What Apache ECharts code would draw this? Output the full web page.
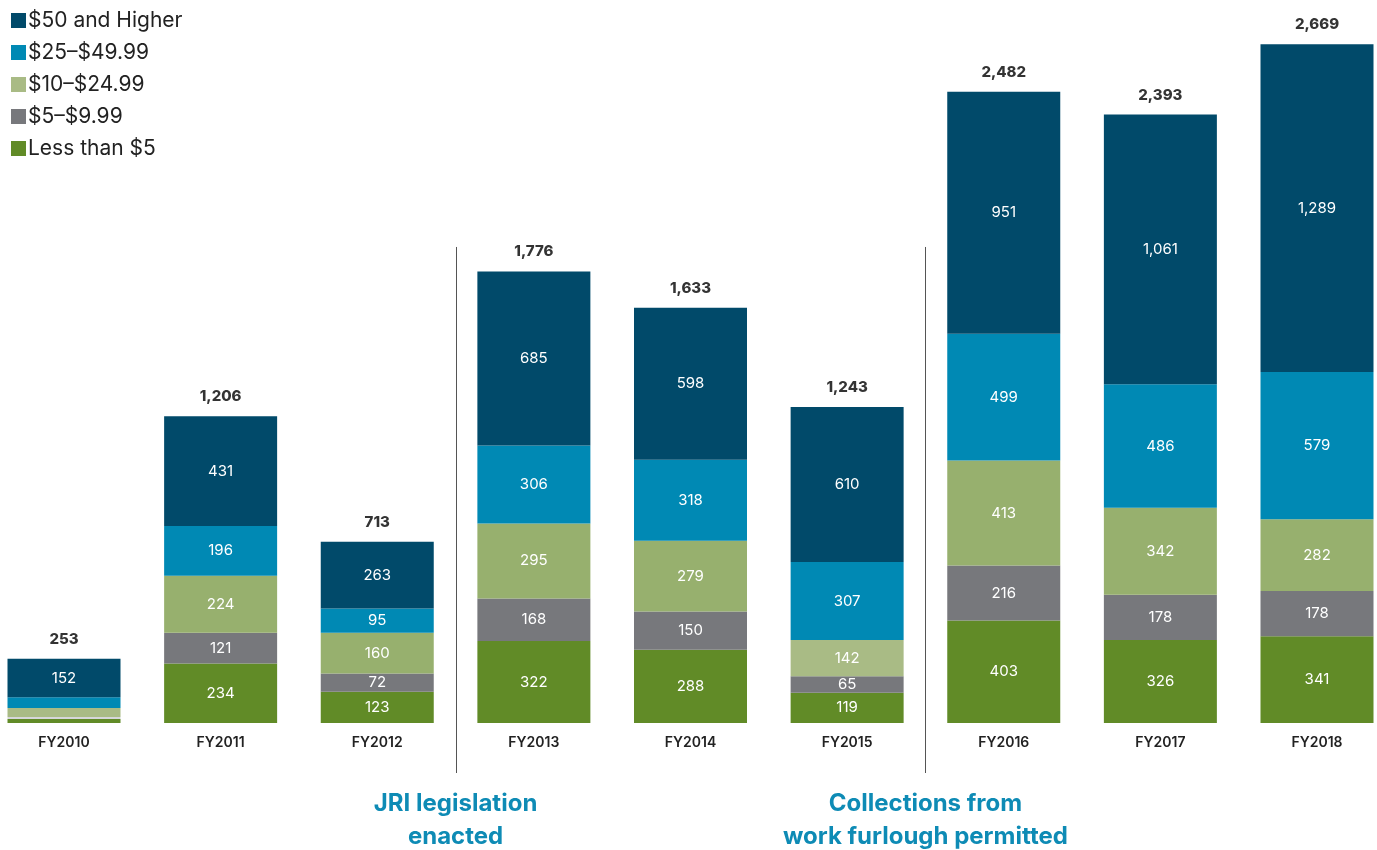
<!DOCTYPE html>
<html><head><meta charset="utf-8">
<script src="https://cdn.jsdelivr.net/npm/echarts@6/dist/echarts.min.js"></script>
<style>html,body{margin:0;padding:0;background:#fff}#c{width:1377px;height:850px}</style>
</head><body><div id="c"></div>
<script>
const categories = ['FY2010','FY2011','FY2012','FY2013','FY2014','FY2015','FY2016','FY2017','FY2018'];
const lessThan5 = [16, 234, 123, 322, 288, 119, 403, 326, 341];
const from5to9 = [8, 121, 72, 168, 150, 65, 216, 178, 178];
const from10to24 = [35, 224, 160, 295, 279, 142, 413, 342, 282];
const from25to49 = [42, 196, 95, 306, 318, 307, 499, 486, 579];
const from50up = [152, 431, 263, 685, 598, 610, 951, 1061, 1289];
const totals = [253, 1206, 713, 1776, 1633, 1243, 2482, 2393, 2669];
const seriesNames = ['Less than $5', '$5–$9.99', '$10–$24.99', '$25–$49.99', '$50 and Higher'];
const annotations = [
  {after: 'FY2012', before: 'FY2013', text: 'JRI legislation\nenacted'},
  {after: 'FY2015', before: 'FY2016', text: 'Collections from\nwork furlough permitted'}
];

const colors = ['#618b27', '#77787c', '#97b06e', '#0089b4', '#014a6a'];
const lightGreen = '#a9bb85';
const FONT = 'Inter, "Noto Sans", sans-serif';
const fmt = v => Number(v).toLocaleString('en-US');

const chart = echarts.init(document.getElementById('c'));
const dataSets = [lessThan5, from5to9, from10to24, from25to49, from50up];

const series = dataSets.map((arr, i) => ({
  name: seriesNames[i],
  type: 'bar',
  stack: 'total',
  barWidth: 113,
  itemStyle: {color: colors[i]},
  data: arr.map((v, j) => {
    const d = {value: v};
    if (i === 2 && (j === 0 || j === 5)) d.itemStyle = {color: lightGreen};
    if (i === 1 && j === 0) d.itemStyle = {color: '#d6d7d9'};
    if (j === 0 && i !== 4) d.label = {show: false};
    return d;
  }),
  label: {
    show: true, position: 'inside', color: '#fff',
    fontFamily: FONT, fontSize: 15, formatter: p => fmt(p.value)
  },
  emphasis: {disabled: true}
}));
series.push({
  name: 'total', type: 'scatter', data: totals, symbolSize: 0, silent: true,
  label: {show: true, position: 'top', distance: 12, color: '#000',
    fontFamily: FONT, fontWeight: 800, fontSize: 15, formatter: p => fmt(p.value)}
});

chart.setOption({
  animation: false,
  color: colors,
  grid: {left: 64, right: 60, top: 11, bottom: 127},
  legend: {
    data: seriesNames.slice().reverse().map((n, i) => ({name: n, itemStyle: {color: i === 2 ? lightGreen : colors[4 - i]}})),
    orient: 'vertical', left: 6, top: 5, itemWidth: 15, itemHeight: 15, itemGap: 11,
    icon: 'rect', selectedMode: false,
    textStyle: {fontFamily: FONT, fontSize: 21, color: '#222', padding: [0, 0, 0, -3]}
  },
  xAxis: {
    type: 'category', data: categories, boundaryGap: false,
    axisLine: {show: false}, axisTick: {show: false},
    axisLabel: {color: '#222', fontFamily: FONT, fontWeight: 600, fontSize: 14, margin: 13}
  },
  yAxis: {type: 'value', min: 0, max: 2800, show: false, splitLine: {show: false}},
  series: series
});

function drawAnnotations() {
  const base = chart.convertToPixel({yAxisIndex: 0}, 0);
  const top = chart.convertToPixel({yAxisIndex: 0}, 1872);
  const els = [];
  annotations.forEach(a => {
    const x = (chart.convertToPixel({xAxisIndex: 0}, a.after) + chart.convertToPixel({xAxisIndex: 0}, a.before)) / 2;
    const xr = Math.round(x) + 0.5;
    els.push({type: 'line', shape: {x1: xr, y1: top, x2: xr, y2: base + 50}, style: {stroke: '#555', lineWidth: 1}, silent: true});
    els.push({type: 'text', x: x, y: base + 64, style: {
      text: a.text, fill: '#0e8bb5', font: 'bold 24px ' + FONT, textAlign: 'center', textVerticalAlign: 'top', lineHeight: 33
    }, silent: true});
  });
  chart.setOption({graphic: els});
}
drawAnnotations();
</script></body></html>
